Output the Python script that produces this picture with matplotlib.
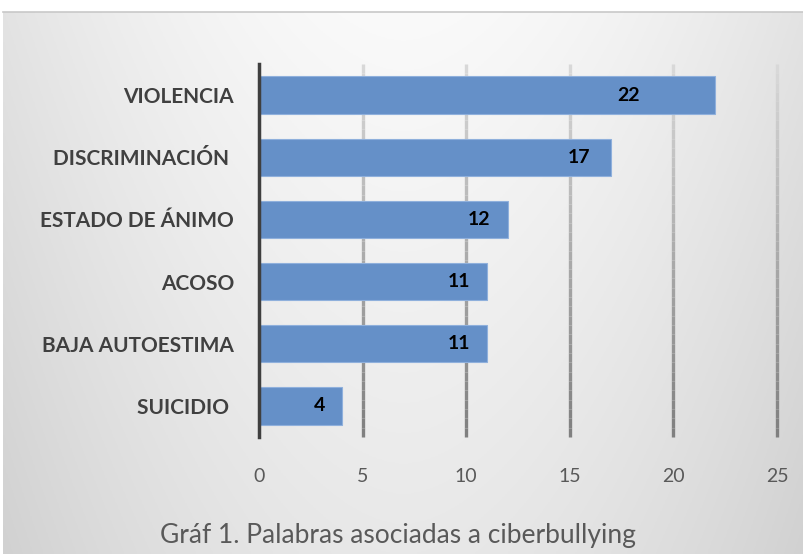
import numpy as np
import matplotlib.pyplot as plt
from matplotlib.collections import LineCollection
from matplotlib.colors import LinearSegmentedColormap

categories = ['VIOLENCIA', 'DISCRIMINACIÓN ', 'ESTADO DE ÁNIMO', 'ACOSO', 'BAJA AUTOESTIMA', 'SUICIDIO ']
values = [22, 17, 12, 11, 11, 4]
xticks = [0, 5, 10, 15, 20, 25]
title = 'Gráf 1. Palabras asociadas a ciberbullying'

plt.rcParams['font.family'] = ['Lato', 'DejaVu Sans']

fig = plt.figure(figsize=(8.04, 5.54), dpi=100)
fig.patch.set_facecolor('white')

# gradient background panel (light centre-top, greyer edges/bottom)
bg = fig.add_axes([0.004, 0, 0.996, 1 - 12 / 554], zorder=-10)
yy, xx = np.mgrid[0:1:200j, -1:1:300j]
shade = 0.98 - 0.09 * np.abs(xx) ** 1.8 - 0.07 * yy
shade = np.clip(shade, 0, 1)
bg.imshow(np.dstack([shade, shade, shade]), aspect='auto', extent=[0, 1, 0, 1], origin='upper')
bg.set_axis_off()
fig.add_artist(plt.Line2D([0.004, 1], [1 - 12 / 554, 1 - 12 / 554], color='#c8c8c8', lw=1.2))

ax = fig.add_axes([259 / 804, 1 - 437 / 554, (777 - 259) / 804, (437 - 64) / 554])
ax.patch.set_alpha(0)

ypos = np.arange(len(categories))
ax.barh(ypos, values, height=0.6, color='#6590c8', edgecolor='#8fb0dc', linewidth=0.8, zorder=3)

ax.set_xlim(0, 25)
ax.set_ylim(len(categories) - 0.5, -0.5)

# gridlines that darken toward the bottom
segs, cols = [], []
cmap = LinearSegmentedColormap.from_list('g', ['#d8d8d8', '#808080'])
n = 40
edges = np.linspace(-0.5, len(categories) - 0.5, n + 1)
for t in xticks[1:]:
    for i in range(n):
        segs.append([(t, edges[i]), (t, edges[i + 1])])
        cols.append(cmap(i / (n - 1)))
ax.add_collection(LineCollection(segs, colors=cols, linewidths=2.4, zorder=1, clip_on=False))

ax.set_xticks(xticks)
ax.set_yticks(ypos)
ax.set_yticklabels(categories, fontsize=15, fontweight='bold', color='#404040')
ax.tick_params(axis='x', length=0, pad=22, labelsize=14, labelcolor='#595959')
ax.tick_params(axis='y', length=0, pad=18)

for s in ['top', 'right', 'bottom']:
    ax.spines[s].set_visible(False)
ax.spines['left'].set_color('#3f3f3f')
ax.spines['left'].set_linewidth(2.5)
ax.spines['left'].set_zorder(4)

# value labels inside bar ends
label_pad = [75, 21, 17, 17, 17, 17]
for y, v, p in zip(ypos, values, label_pad):
    ax.annotate(str(v), xy=(v, y), xytext=(-p, 0), textcoords='offset pixels',
                ha='right', va='center', fontsize=14, fontweight='bold', color='black', zorder=5)

fig.text(398 / 804, 1 - 535 / 554, title, ha='center', va='center', fontsize=19, color='#595959')

fig.savefig('out.png', dpi=100)
